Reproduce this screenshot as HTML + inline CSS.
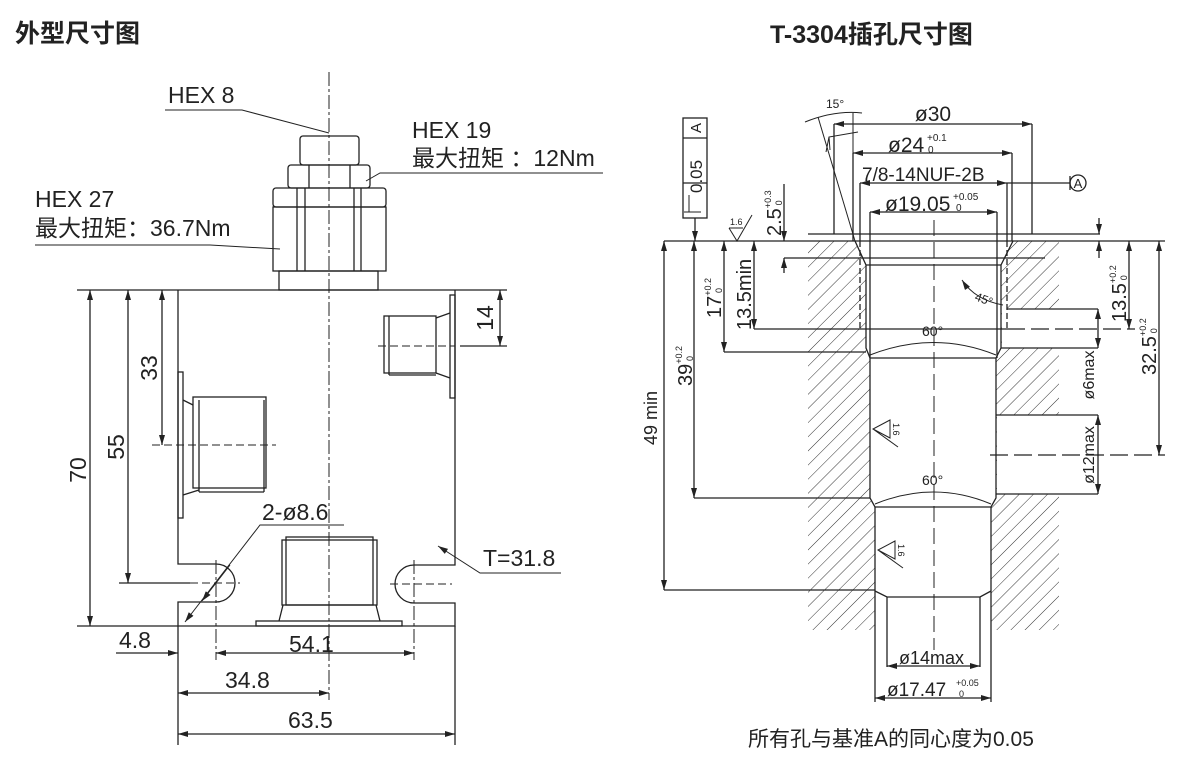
<!DOCTYPE html>
<html><head><meta charset="utf-8"><style>
html,body{margin:0;padding:0;background:#fff}
svg{display:block}
text{font-family:"Liberation Sans","Noto Sans CJK SC",sans-serif;fill:#222}
</style></head><body>
<svg width="1191" height="771" viewBox="0 0 1191 771" xmlns="http://www.w3.org/2000/svg">
<defs>
<pattern id="h" width="10" height="10" patternUnits="userSpaceOnUse" patternTransform="rotate(45)">
<line x1="0" y1="0" x2="0" y2="10" stroke="#333" stroke-width="1"/>
</pattern>
<marker id="a" viewBox="0 0 10 6" refX="10" refY="3" markerWidth="11" markerHeight="6" orient="auto-start-reverse" markerUnits="userSpaceOnUse">
<path d="M0,0 L10,3 L0,6 z" fill="#222"/></marker>
</defs>
<text x="15" y="42" font-size="25" font-weight="bold" font-family="Noto Sans CJK SC,sans-serif">外型尺寸图</text>
<text x="770" y="43" font-size="25" font-weight="bold">T-3304插孔尺寸图</text>

<g stroke="#222" stroke-width="1.3" fill="none">
<line x1="329" y1="72" x2="329" y2="700" stroke-dasharray="14,3,3,3" stroke-width="1"/>
<rect x="300" y="136" width="59" height="29" rx="3"/>
<rect x="288" y="165" width="82" height="23" rx="3"/>
<line x1="309" y1="165" x2="309" y2="188"/><line x1="350" y1="165" x2="350" y2="188"/>
<rect x="273" y="188" width="113" height="19" rx="3"/>
<rect x="273" y="207" width="113" height="64"/>
<line x1="297" y1="188" x2="297" y2="271"/><line x1="305" y1="188" x2="305" y2="271"/>
<line x1="354" y1="188" x2="354" y2="271"/><line x1="361" y1="188" x2="361" y2="271"/>
<rect x="279" y="271" width="99" height="19"/>
<line x1="77" y1="290" x2="507" y2="290"/>
<path d="M178,290 V564 H216 A19,19 0 0 1 216,602 H178 V626 H455 V603 H414 A19,19 0 0 1 414,565 H455 V290"/>
<line x1="77" y1="626" x2="178" y2="626"/>
<rect x="450" y="295" width="5" height="103"/>
<rect x="384" y="316" width="52" height="57"/>
<line x1="389" y1="316" x2="389" y2="375"/><line x1="389" y1="375" x2="436" y2="375"/>
<line x1="436" y1="318" x2="450" y2="313"/><line x1="436" y1="373" x2="450" y2="378"/>
<line x1="378" y1="346" x2="455" y2="346" stroke-dasharray="8,4" stroke-width="1"/>
<line x1="460" y1="346" x2="507" y2="346"/>
<line x1="500" y1="290" x2="500" y2="346" marker-start="url(#a)" marker-end="url(#a)"/>
<rect x="178" y="372" width="5" height="146"/>
<rect x="193" y="397" width="73" height="91"/>
<line x1="199" y1="400" x2="199" y2="492"/><line x1="199" y1="492" x2="264" y2="492"/><line x1="264" y1="400" x2="264" y2="492"/>
<line x1="183" y1="400" x2="193" y2="405"/><line x1="183" y1="495" x2="199" y2="490"/>
<line x1="152" y1="445" x2="276" y2="445" stroke-dasharray="8,4" stroke-width="1"/>
<rect x="286" y="537" width="87" height="68"/>
<rect x="282" y="540" width="95" height="65"/>
<path d="M283,605 L279,621 M376,605 L380,621"/>
<rect x="256" y="621" width="146" height="5"/>
<line x1="216" y1="560" x2="216" y2="660" stroke-dasharray="14,3,3,3" stroke-width="1"/>
<line x1="414" y1="560" x2="414" y2="660" stroke-dasharray="14,3,3,3" stroke-width="1"/>
<line x1="119" y1="583" x2="190" y2="583"/>
<line x1="190" y1="583" x2="240" y2="583" stroke-dasharray="8,4" stroke-width="1"/>
<line x1="390" y1="584" x2="452" y2="584" stroke-dasharray="8,4" stroke-width="1"/>
<line x1="90" y1="290" x2="90" y2="626" marker-start="url(#a)" marker-end="url(#a)"/>
<line x1="128" y1="290" x2="128" y2="583" marker-start="url(#a)" marker-end="url(#a)"/>
<line x1="162" y1="290" x2="162" y2="445" marker-start="url(#a)" marker-end="url(#a)"/>
<line x1="116" y1="653" x2="178" y2="653" marker-end="url(#a)"/>
<line x1="216" y1="653" x2="414" y2="653" marker-start="url(#a)" marker-end="url(#a)"/>
<line x1="178" y1="693" x2="329" y2="693" marker-start="url(#a)" marker-end="url(#a)"/>
<line x1="178" y1="734" x2="455" y2="734" marker-start="url(#a)" marker-end="url(#a)"/>
<line x1="178" y1="626" x2="178" y2="745"/><line x1="455" y1="626" x2="455" y2="745"/>
<path d="M165,110 H242 L329,133" stroke-width="1"/>
<path d="M603,173 H380 L366,181" stroke-width="1"/>
<path d="M35,245 H210 L280,249" stroke-width="1"/>
<path d="M344,525 H260 L185,622" stroke-width="1" marker-end="url(#a)"/>
<line x1="230" y1="565" x2="202" y2="601" stroke-width="1" marker-end="url(#a)"/>
<path d="M561,573 H480 L438,546" stroke-width="1" marker-end="url(#a)"/>
</g>
<g font-size="23">
<text x="168" y="103">HEX 8</text>
<text x="412" y="138">HEX 19</text>
<text x="412" y="166">最大扭矩 ：12Nm</text>
<text x="35" y="207">HEX 27</text>
<text x="35" y="236">最大扭矩：36.7Nm</text>
<text x="262" y="520">2-ø8.6</text>
<text x="483" y="566">T=31.8</text>
<text x="119" y="648">4.8</text>
<text x="289" y="652">54.1</text>
<text x="225" y="688">34.8</text>
<text x="288" y="728">63.5</text>
<text transform="translate(493,318) rotate(-90)" text-anchor="middle">14</text>
<text transform="translate(157,368) rotate(-90)" text-anchor="middle">33</text>
<text transform="translate(124,447) rotate(-90)" text-anchor="middle">55</text>
<text transform="translate(86,470) rotate(-90)" text-anchor="middle">70</text>
</g>

<rect x="808" y="241" width="251" height="389" fill="url(#h)"/>
<path d="M855,241 L1013,241 L1001,265 L1001,348 L996,358 L996,498 L991,507 L991,630 L875,630 L875,507 L870,498 L870,358 L866,348 L866,265 Z" fill="#fff"/>
<rect x="1002" y="309" width="60" height="39" fill="#fff"/>
<rect x="997" y="415" width="65" height="79" fill="#fff"/>
<g stroke="#222" stroke-width="1.3" fill="none">
<line x1="664" y1="241" x2="1165" y2="241"/>
<line x1="808" y1="234" x2="1100" y2="234"/>
<path d="M855,241 L866,265 V348 L870,358 M1013,241 L1001,265 V348 L996,358"/>
<line x1="866" y1="265" x2="1001" y2="265"/>
<path d="M870,358 H996 M870,358 V498 L875,507 H991 L996,498 V358"/>
<path d="M875,507 V667 M991,507 V667 M875,591 L887,597 H980 L991,591 M887,597 V667 M980,597 V667"/>
<line x1="860" y1="241" x2="860" y2="330" stroke-dasharray="6,3"/>
<line x1="1007" y1="241" x2="1007" y2="330" stroke-dasharray="6,3"/>
<path d="M1007,309 H1098 M1001,348 H1098 M996,415 H1098 M996,494 H1098"/>
<line x1="934" y1="220" x2="934" y2="650" stroke-dasharray="16,6" stroke-width="1"/>
<path d="M834,124 V234 M1032,124 V234 M853,153 V241 M1012,153 V241 M860,183 V241 M1007,183 V241 M870,212 V358 M997,212 V358"/>
<line x1="834" y1="124" x2="1032" y2="124" marker-start="url(#a)" marker-end="url(#a)"/>
<line x1="853" y1="153" x2="1012" y2="153" marker-start="url(#a)" marker-end="url(#a)"/>
<line x1="860" y1="183" x2="1007" y2="183" marker-start="url(#a)" marker-end="url(#a)"/>
<line x1="1007" y1="183" x2="1070" y2="183"/>
<line x1="1070" y1="176" x2="1070" y2="190"/>
<circle cx="1078" cy="183" r="8"/>
<line x1="870" y1="212" x2="997" y2="212" marker-start="url(#a)" marker-end="url(#a)"/>
<path d="M805,122 Q835,110 862,113" stroke-width="1"/>
<line x1="818" y1="117" x2="855" y2="241" stroke-width="1"/>
<line x1="853" y1="113" x2="853" y2="241" stroke-width="1"/>
<path d="M830,150 L829,137 L858,132 M829,137 L826,152" stroke-width="1"/>
<path d="M962,280 Q975,300 1003,305" stroke-width="1" marker-start="url(#a)"/>
<path d="M870,355 Q934,330 996,355" stroke-width="1"/>
<path d="M875,504 Q934,480 991,504" stroke-width="1"/>
<rect x="683" y="118" width="24" height="100"/>
<line x1="683" y1="138" x2="707" y2="138"/><line x1="683" y1="183" x2="707" y2="183"/>
<line x1="695" y1="218" x2="695" y2="241" marker-end="url(#a)"/>
<path d="M689,195 V212 M684,212 H701" stroke-width="1"/>
<path d="M729,228 L737,241 L752,215 M729,228 H743" stroke-width="1"/>
<path d="M890,420 L873,429 L890,438 Z M873,429 L898,447" stroke-width="1"/>
<path d="M895,541 L878,550 L895,559 Z M878,550 L903,568" stroke-width="1"/>
<line x1="664" y1="241" x2="664" y2="590" marker-start="url(#a)" marker-end="url(#a)"/>
<line x1="664" y1="590" x2="875" y2="590"/>
<line x1="694" y1="241" x2="694" y2="498" marker-start="url(#a)" marker-end="url(#a)"/>
<line x1="694" y1="498" x2="870" y2="498"/>
<line x1="724" y1="241" x2="724" y2="352" marker-start="url(#a)" marker-end="url(#a)"/>
<line x1="724" y1="352" x2="866" y2="352"/>
<line x1="754" y1="241" x2="754" y2="329" marker-start="url(#a)" marker-end="url(#a)"/>
<line x1="754" y1="329" x2="1007" y2="329"/>
<line x1="1007" y1="329" x2="1135" y2="329" stroke-dasharray="18,6"/>
<line x1="784" y1="184" x2="784" y2="241" marker-end="url(#a)"/>
<line x1="784" y1="258" x2="784" y2="273" marker-start="url(#a)"/>
<line x1="784" y1="258" x2="1045" y2="258"/>
<line x1="1099" y1="218" x2="1099" y2="234" marker-end="url(#a)"/>
<line x1="1099" y1="241" x2="1099" y2="258" marker-start="url(#a)"/>
<line x1="1129" y1="241" x2="1129" y2="329" marker-start="url(#a)" marker-end="url(#a)"/>
<line x1="1159" y1="241" x2="1159" y2="455" marker-start="url(#a)" marker-end="url(#a)"/>
<line x1="990" y1="455" x2="1165" y2="455" stroke-dasharray="18,6"/>
<line x1="1098" y1="309" x2="1098" y2="348" marker-start="url(#a)" marker-end="url(#a)"/>
<line x1="1098" y1="415" x2="1098" y2="494" marker-start="url(#a)" marker-end="url(#a)"/>
<line x1="887" y1="666" x2="980" y2="666" marker-start="url(#a)" marker-end="url(#a)"/>
<path d="M875,667 V702 M991,667 V702"/>
<line x1="875" y1="698" x2="991" y2="698" marker-start="url(#a)" marker-end="url(#a)"/>
</g>
<g font-size="20">
<text x="933" y="121" text-anchor="middle" font-size="21">ø30</text>
<text x="888" y="152" font-size="21">ø24</text><text x="927" y="141" font-size="10">+0.1</text><text x="928" y="153" font-size="10">0</text>
<text x="862" y="181" font-size="19">7/8-14NUF-2B</text>
<text x="1078" y="188" text-anchor="middle" font-size="13">A</text>
<text x="885" y="211" font-size="21">ø19.05</text><text x="953" y="200" font-size="10">+0.05</text><text x="956" y="211" font-size="10">0</text>
<text x="826" y="108" font-size="12">15°</text>
<text x="974" y="300" font-size="12" transform="rotate(20 974 300)">45°</text>
<text x="922" y="336" font-size="14">60°</text>
<text x="922" y="485" font-size="14">60°</text>
<text x="730" y="225" font-size="9">1.6</text>
<text transform="translate(893,423) rotate(90)" font-size="9">1.6</text>
<text transform="translate(898,544) rotate(90)" font-size="9">1.6</text>
<text transform="translate(702,193) rotate(-90)" font-size="17">0.05</text>
<text transform="translate(701,133) rotate(-90)" font-size="15">A</text>
<text transform="translate(657,445) rotate(-90)" font-size="18">49 min</text>
<text transform="translate(692,386) rotate(-90)">39<tspan font-size="9" dy="-10">+0.2</tspan><tspan font-size="9" dx="-15" dy="11">0</tspan></text>
<text transform="translate(721,318) rotate(-90)">17<tspan font-size="9" dy="-10">+0.2</tspan><tspan font-size="9" dx="-15" dy="11">0</tspan></text>
<text transform="translate(751,330) rotate(-90)">13.5min</text>
<text transform="translate(781,236) rotate(-90)">2.5<tspan font-size="9" dy="-10">+0.3</tspan><tspan font-size="9" dx="-15" dy="11">0</tspan></text>
<text transform="translate(1126,322) rotate(-90)">13.5<tspan font-size="9" dy="-10">+0.2</tspan><tspan font-size="9" dx="-15" dy="11">0</tspan></text>
<text transform="translate(1156,375) rotate(-90)">32.5<tspan font-size="9" dy="-10">+0.2</tspan><tspan font-size="9" dx="-15" dy="11">0</tspan></text>
<text transform="translate(1094,375) rotate(-90)" text-anchor="middle" font-size="16">ø6max</text>
<text transform="translate(1094,455) rotate(-90)" text-anchor="middle" font-size="16">ø12max</text>
<text x="899" y="664" font-size="18">ø14max</text>
<text x="887" y="696" font-size="19">ø17.47</text><text x="956" y="686" font-size="9">+0.05</text><text x="959" y="697" font-size="9">0</text>
</g>
<text x="748" y="746" font-size="21" font-family="Liberation Serif,Noto Serif CJK SC,serif">所有孔与基准A的同心度为0.05</text>
</svg>
</body></html>
